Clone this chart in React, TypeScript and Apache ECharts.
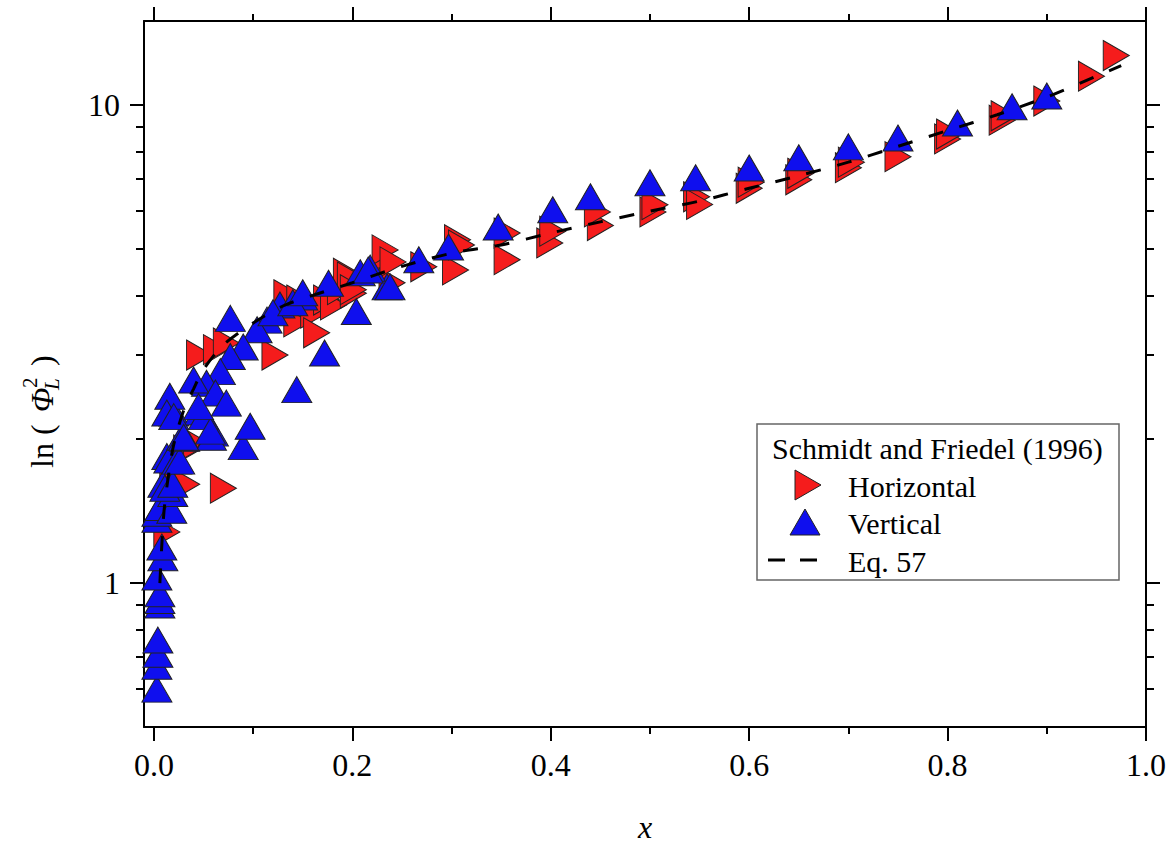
import React, { useEffect, useRef } from "react";
import * as echarts from "echarts";

const FONT = "Liberation Serif";

const xMajorTicks = [0, 0.2, 0.4, 0.6, 0.8, 1.0];
const xMinorTicks = [0.1, 0.3, 0.5, 0.7, 0.9];
const yMajorTicks = [1, 10];
const yMinorTicks = [0.6, 0.7, 0.8, 0.9, 2, 3, 4, 5, 6, 7, 8, 9];

// Schmidt and Friedel (1996) — Horizontal
const horizontalData: number[][] = [
  [0.013, 1.28], [0.019, 1.62], [0.033, 1.61], [0.07, 1.58], [0.033, 1.9], [0.043, 1.96],
  [0.046, 3.0], [0.063, 3.08], [0.073, 3.18], [0.122, 3.0], [0.134, 4.01], [0.144, 3.52],
  [0.147, 3.91], [0.161, 3.67], [0.164, 3.34], [0.174, 3.91], [0.181, 3.82], [0.188, 4.11],
  [0.194, 4.45], [0.201, 4.04], [0.235, 4.74], [0.233, 4.98],
  [0.198, 4.37], [0.201, 4.11], [0.24, 4.25], [0.241, 4.7], [0.272, 4.59], [0.304, 4.52],
  [0.306, 5.23], [0.31, 5.1], [0.356, 5.4], [0.356, 4.75], [0.399, 5.15], [0.402, 5.45],
  [0.45, 5.6], [0.447, 5.98], [0.503, 5.98], [0.505, 6.19], [0.547, 6.43], [0.55, 6.2],
  [0.6, 6.7], [0.602, 6.9], [0.65, 6.98], [0.652, 7.2], [0.7, 7.4], [0.703, 7.6],
  [0.75, 7.8], [0.8, 8.5], [0.802, 8.7], [0.855, 9.3], [0.857, 9.5], [0.9, 10.2],
  [0.945, 11.5], [0.97, 12.7],
];

// Schmidt and Friedel (1996) — Vertical
const verticalData: number[][] = [
  [0.003, 0.6], [0.003, 0.67], [0.004, 0.71], [0.004, 0.76], [0.006, 0.9], [0.006, 0.92],
  [0.006, 0.95], [0.003, 1.03], [0.009, 1.13], [0.008, 1.19], [0.003, 1.36], [0.003, 1.4],
  [0.006, 1.44], [0.018, 1.42], [0.019, 1.54], [0.009, 1.61], [0.011, 1.58], [0.019, 1.61],
  [0.013, 1.84], [0.015, 1.81], [0.023, 1.8], [0.026, 1.8], [0.031, 2.01], [0.028, 2.02],
  [0.06, 2.06], [0.058, 2.02], [0.09, 1.93], [0.097, 2.13], [0.02, 2.27], [0.046, 2.28],
  [0.077, 3.58], [0.172, 3.03], [0.144, 2.54], [0.204, 3.7], [0.235, 4.17], [0.218, 4.56],
  [0.176, 4.24], [0.15, 3.97], [0.127, 3.82], [0.114, 3.55], [0.104, 3.39], [0.09, 3.12],
  [0.077, 2.98], [0.067, 2.77], [0.053, 2.62], [0.062, 2.5], [0.073, 2.38], [0.04, 2.66],
  [0.016, 2.46], [0.013, 2.27], [0.02, 2.23], [0.05, 2.23], [0.057, 2.08], [0.03, 2.02],
  [0.045, 2.34], [0.12, 3.68], [0.14, 3.86],
  [0.15, 4.05], [0.208, 4.46], [0.216, 4.52], [0.238, 4.17], [0.267, 4.75], [0.297, 5.05],
  [0.347, 5.56], [0.402, 6.04], [0.44, 6.43], [0.5, 6.88], [0.546, 7.05], [0.6, 7.39],
  [0.65, 7.76], [0.7, 8.18], [0.75, 8.54], [0.81, 9.18], [0.865, 9.92], [0.9, 10.45],
];

// Eq. 57
const eqX = [0.006, 0.01, 0.015, 0.02, 0.03, 0.04, 0.05, 0.07, 0.1, 0.13, 0.16, 0.2, 0.25, 0.3, 0.35, 0.4, 0.45, 0.5, 0.55, 0.6, 0.65, 0.7, 0.75, 0.8, 0.85, 0.9, 0.95, 0.975];
const eqY = [1.0, 1.4, 1.7, 1.95, 2.3, 2.55, 2.8, 3.15, 3.5, 3.8, 4.0, 4.25, 4.6, 4.9, 5.1, 5.4, 5.7, 6.0, 6.3, 6.7, 7.12, 7.6, 8.2, 8.85, 9.55, 10.4, 11.5, 12.1];

const RED = "#f51c1c";
const BLUE = "#0f0fee";
const RIGHT_TRI = "path://M0,0L26,15L0,30Z";
const UP_TRI = "path://M15,0L30,26L0,26Z";

export default function App() {
  const ref = useRef<HTMLDivElement>(null);
  useEffect(() => {
    if (!ref.current) return;
    const chart = echarts.init(ref.current, null, { renderer: "svg" });
    const xMin = -0.01, xMax = 1.0, yMin = 0.5, yMax = 15;
    const axisLine = { show: true, onZero: false, lineStyle: { color: "#000", width: 2 } };
    const noLine = { show: false, onZero: false };
    const xAx = (pos: string, ticks: number[], len: number, labels: boolean, line: boolean, extra: any = {}) => ({
      type: "value", min: xMin, max: xMax, position: pos, gridIndex: 0,
      axisLine: line ? axisLine : noLine,
      axisTick: { show: true, inside: false, length: len, customValues: ticks, lineStyle: { color: "#000", width: 2 } },
      axisLabel: labels
        ? { show: true, customValues: ticks, formatter: (v: number) => v.toFixed(1), fontSize: 32, fontFamily: FONT, color: "#000", margin: 22 }
        : { show: false },
      splitLine: { show: false },
      ...extra,
    });
    const yAx = (pos: string, ticks: number[], len: number, labels: boolean, line: boolean) => ({
      type: "log", logBase: 10, min: yMin, max: yMax, position: pos, gridIndex: 0,
      axisLine: line ? axisLine : noLine,
      axisTick: { show: true, inside: false, length: len, customValues: ticks, lineStyle: { color: "#000", width: 2 } },
      axisLabel: labels
        ? { show: true, customValues: ticks, formatter: (v: number) => String(Math.round(v)), fontSize: 32, fontFamily: FONT, color: "#000", margin: 24 }
        : { show: false },
      splitLine: { show: false },
      minorTick: { show: false },
    });
    const txt = (text: string, x: number, y: number, size = 30, italic = false) => ({
      type: "text", x, y, z: 11,
      style: { text, fontSize: size, fontFamily: FONT, fontStyle: italic ? "italic" : "normal", fill: "#000", verticalAlign: "middle" },
    });
    chart.setOption({
      animation: false,
      backgroundColor: "#fff",
      grid: { left: 144, top: 21, width: 1002, height: 706, containLabel: false, outerBoundsMode: "none" },
      xAxis: [
        xAx("bottom", xMajorTicks, 14, true, true, {
          name: "x", nameLocation: "middle", nameGap: 84,
          nameTextStyle: { fontSize: 32, fontFamily: FONT, fontStyle: "italic", color: "#000" },
        }),
        xAx("bottom", xMinorTicks, 7, false, false),
        xAx("top", xMajorTicks, 14, false, true),
        xAx("top", xMinorTicks, 7, false, false),
      ],
      yAxis: [
        yAx("left", yMajorTicks, 14, true, true),
        yAx("left", yMinorTicks, 8, false, false),
        yAx("right", yMajorTicks, 14, false, true),
        yAx("right", yMinorTicks, 8, false, false),
      ],
      series: [
        {
          name: "Horizontal", type: "scatter", xAxisIndex: 0, yAxisIndex: 0,
          data: horizontalData, symbol: RIGHT_TRI, symbolSize: [26, 30], z: 2,
          itemStyle: { color: RED, borderColor: "#222", borderWidth: 1, opacity: 1 },
        },
        {
          name: "Vertical", type: "scatter", xAxisIndex: 0, yAxisIndex: 0,
          data: verticalData, symbol: UP_TRI, symbolSize: [30, 26], z: 3,
          itemStyle: { color: BLUE, borderColor: "#222", borderWidth: 1, opacity: 1 },
        },
        {
          name: "Eq. 57", type: "line", xAxisIndex: 0, yAxisIndex: 0,
          data: eqX.map((x, i) => [x, eqY[i]]), showSymbol: false, symbol: "none", smooth: 0.3, z: 4,
          lineStyle: { color: "#000", width: 3, type: [15, 17] },
        },
      ],
      graphic: [
        {
          type: "rect", shape: { x: 757, y: 424, width: 362, height: 156 },
          style: { fill: "#fff", stroke: "#666", lineWidth: 1.5 }, z: 10,
        },
        txt("Schmidt and Friedel (1996)", 772, 448),
        {
          type: "polygon", z: 11, shape: { points: [[795, 470], [821, 485], [795, 500]] },
          style: { fill: RED, stroke: "#222", lineWidth: 1 },
        },
        txt("Horizontal", 848, 486),
        {
          type: "polygon", z: 11, shape: { points: [[790, 535], [805, 509], [820, 535]] },
          style: { fill: BLUE, stroke: "#222", lineWidth: 1 },
        },
        txt("Vertical", 848, 523),
        {
          type: "line", z: 11, shape: { x1: 768, y1: 560, x2: 817, y2: 560 },
          style: { stroke: "#000", lineWidth: 3, lineDash: [17, 15] },
        },
        txt("Eq. 57", 848, 561),
        {
          type: "group", x: 42, y: 468, rotation: Math.PI / 2, z: 11,
          children: [
            txt("ln (", 0, 0, 32),
            txt("Φ", 56, 0, 32, true),
            txt("2", 80, -12, 21),
            txt("L", 78, 10, 21, true),
            txt(")", 102, 0, 32),
          ],
        },
      ],
    });
    return () => chart.dispose();
  }, []);
  return <div ref={ref} style={{ position: "fixed", left: 0, top: 0, width: 1175, height: 846 }} />;
}
